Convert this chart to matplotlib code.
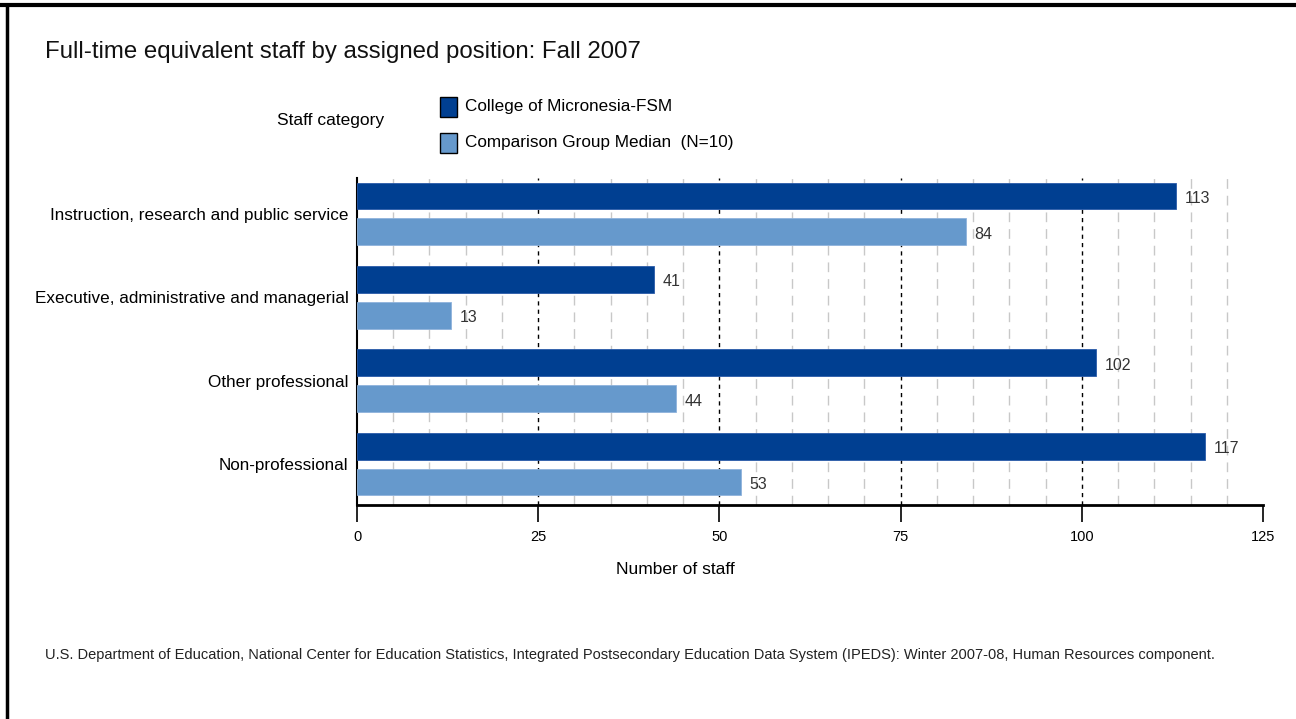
import matplotlib.pyplot as plt
import numpy as np

categories = [
    "Instruction, research and public service",
    "Executive, administrative and managerial",
    "Other professional",
    "Non-professional",
]
college = [113, 41, 102, 117]
comparison = [84, 13, 44, 53]
series_names = ["College of Micronesia-FSM", "Comparison Group Median  (N=10)"]
x_ticks = [0, 25, 50, 75, 100, 125]

dark = "#003f91"
light = "#6699cc"

plt.rcParams["font.family"] = ["Liberation Sans", "DejaVu Sans"]

W, H = 1296, 719
fig = plt.figure(figsize=(W / 100, H / 100), dpi=100)

# frame lines (top and left border of the page snippet)
fig.add_artist(plt.Line2D([0, 1], [1 - 5 / H, 1 - 5 / H], color="black", lw=3, transform=fig.transFigure))
fig.add_artist(plt.Line2D([7 / W, 7 / W], [0, 1 - 5 / H], color="black", lw=2.5, transform=fig.transFigure))

ax = fig.add_axes([357 / W, (H - 505) / H, 906 / W, (505 - 178) / H])

y = np.arange(len(categories))
h = 0.32
off = 0.215
ax.barh(y - off, college, height=h, color=dark, edgecolor="#2a5aa8", lw=0.6, zorder=3)
ax.barh(y + off, comparison, height=h, color=light, edgecolor="#8fb3dc", lw=0.6, zorder=3)

for yi, v in zip(y, college):
    ax.text(v + 1.2, yi - off + 0.03, str(v), va="center", ha="left", fontsize=11.5, color="#333333")
for yi, v in zip(y, comparison):
    ax.text(v + 1.2, yi + off + 0.03, str(v), va="center", ha="left", fontsize=11.5, color="#333333")

# gridlines
for g in range(5, 125, 5):
    if g % 25 == 0:
        ax.axvline(g, color="black", lw=1, ls=(0, (3, 3)), zorder=1)
    else:
        ax.axvline(g, color="#c8c8c8", lw=1, ls=(0, (7, 5)), zorder=1)

ax.set_xlim(0, 125)
ax.set_ylim(3.49, -0.43)
ax.set_yticks(y)
ax.set_yticklabels(categories, fontsize=12.3)
ax.tick_params(axis="y", length=0, pad=6)
ax.set_xticks(x_ticks)
ax.set_xticklabels([str(t) for t in x_ticks], fontsize=10.5)
ax.tick_params(axis="x", length=12, width=1.2, pad=6)
ax.set_xlabel("Number of staff", fontsize=12.5)
ax.xaxis.set_label_coords((675 - 357) / 906, -0.175)

for s in ["top", "right"]:
    ax.spines[s].set_visible(False)
ax.spines["bottom"].set_linewidth(2)
ax.spines["left"].set_linewidth(1.5)

fig.text(45 / W, 1 - 52 / H, "Full-time equivalent staff by assigned position: Fall 2007",
         fontsize=17.3, va="center", ha="left", color="#111111")
fig.text(277 / W, 1 - 121 / H, "Staff category", fontsize=12.5, va="center", ha="left")

for i, (name, col) in enumerate(zip(series_names, [dark, light])):
    yc = 107 + i * 36
    fig.add_artist(plt.Rectangle((440 / W, 1 - (yc + 10) / H), 17 / W, 20 / H,
                                 facecolor=col, edgecolor="black", lw=1, transform=fig.transFigure))
    fig.text(465 / W, 1 - yc / H, name, fontsize=12.3, va="center", ha="left")

fig.text(45 / W, 1 - 655 / H,
         "U.S. Department of Education, National Center for Education Statistics, Integrated Postsecondary "
         "Education Data System (IPEDS): Winter 2007-08, Human Resources component.",
         fontsize=10.5, va="center", ha="left", color="#222222")

fig.savefig("out.png", dpi=100)
